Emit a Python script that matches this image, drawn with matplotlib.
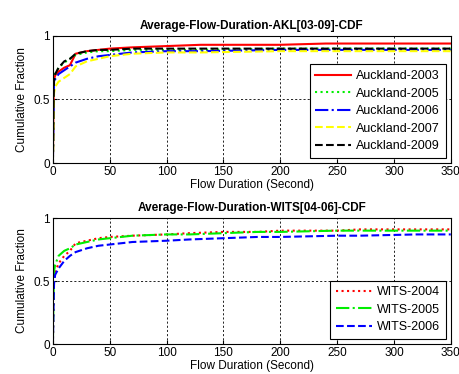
import matplotlib
matplotlib.use("Agg")
import matplotlib.pyplot as plt

plt.rcParams['font.family'] = ['Liberation Sans', 'DejaVu Sans']

# -----------------------------
# Data
# -----------------------------
akl_x = [0, 0.5, 1, 2, 5, 10, 15, 20, 30, 40, 50, 70, 100, 130, 200, 240, 300, 350]
akl_2003 = [0, 0.45, 0.66, 0.69, 0.72, 0.75, 0.77, 0.86, 0.88, 0.89, 0.90, 0.91, 0.92, 0.93, 0.93, 0.94, 0.94, 0.94]
akl_2005 = [0, 0.40, 0.64, 0.70, 0.75, 0.79, 0.82, 0.85, 0.87, 0.88, 0.88, 0.89, 0.89, 0.89, 0.90, 0.90, 0.90, 0.90]
akl_2006 = [0, 0.30, 0.62, 0.66, 0.70, 0.73, 0.76, 0.79, 0.82, 0.84, 0.85, 0.87, 0.88, 0.88, 0.89, 0.89, 0.89, 0.89]
akl_2007 = [0, 0.25, 0.55, 0.60, 0.64, 0.67, 0.70, 0.76, 0.80, 0.82, 0.84, 0.86, 0.87, 0.87, 0.88, 0.88, 0.88, 0.88]
akl_2009 = [0, 0.40, 0.65, 0.70, 0.75, 0.80, 0.82, 0.86, 0.88, 0.89, 0.89, 0.90, 0.90, 0.90, 0.90, 0.90, 0.90, 0.90]
akl_labels = ["Auckland-2003", "Auckland-2005", "Auckland-2006", "Auckland-2007", "Auckland-2009"]

wits_x = [0, 0.5, 1, 2, 5, 10, 15, 20, 30, 40, 50, 70, 100, 120, 150, 180, 200, 250, 270, 320, 350]
wits_2004 = [0, 0.30, 0.52, 0.57, 0.64, 0.70, 0.74, 0.80, 0.82, 0.84, 0.85, 0.86, 0.87, 0.88, 0.89, 0.89, 0.90, 0.90, 0.91, 0.91, 0.91]
wits_2005 = [0, 0.35, 0.58, 0.63, 0.70, 0.74, 0.76, 0.79, 0.81, 0.83, 0.84, 0.86, 0.87, 0.87, 0.88, 0.89, 0.89, 0.90, 0.90, 0.90, 0.90]
wits_2006 = [0, 0.25, 0.48, 0.55, 0.60, 0.66, 0.70, 0.73, 0.76, 0.78, 0.79, 0.81, 0.82, 0.83, 0.84, 0.85, 0.85, 0.86, 0.86, 0.87, 0.87]
wits_labels = ["WITS-2004", "WITS-2005", "WITS-2006"]

# -----------------------------
# Figure
# -----------------------------
fig = plt.figure(figsize=(4.6, 3.74), dpi=100)
ax_top = fig.add_axes([0.115, 0.564, 0.865, 0.340])
ax_bot = fig.add_axes([0.115, 0.080, 0.865, 0.337])

akl_series = [akl_2003, akl_2005, akl_2006, akl_2007, akl_2009]
akl_styles = [("red", "-"), ("#00ee00", ":"), ("blue", "-."), ("yellow", "--"), ("black", "--")]
for y, lab, (c, ls) in zip(akl_series, akl_labels, akl_styles):
    ax_top.plot(akl_x, y, color=c, linestyle=ls, lw=1.5, label=lab)

wits_series = [wits_2004, wits_2005, wits_2006]
wits_styles = [("red", ":"), ("#00ee00", "-."), ("blue", "--")]
for y, lab, (c, ls) in zip(wits_series, wits_labels, wits_styles):
    ax_bot.plot(wits_x, y, color=c, linestyle=ls, lw=1.5, label=lab)

titles = ["Average-Flow-Duration-AKL[03-09]-CDF", "Average-Flow-Duration-WITS[04-06]-CDF"]
for ax, title in zip([ax_top, ax_bot], titles):
    ax.set_xlim(0, 350)
    ax.set_ylim(0, 1)
    ax.set_xticks(range(0, 351, 50))
    ax.set_yticks([0, 0.5, 1])
    ax.set_yticklabels(["0", "0.5", "1"])
    ax.grid(True, color="black", linestyle=(0, (2.5, 2.5)), linewidth=0.6)
    ax.tick_params(direction="in", labelsize=8.5, length=3, pad=2)
    ax.set_title(title, fontsize=8.5, fontweight="bold", pad=5)
    ax.set_xlabel("Flow Duration (Second)", fontsize=8.5, labelpad=1)
    ax.set_ylabel("Cumulative Fraction", fontsize=8.5, labelpad=4)
    for s in ax.spines.values():
        s.set_linewidth(0.8)
    leg = ax.legend(loc="lower right", fontsize=9, fancybox=False, framealpha=1,
                    edgecolor="black", borderaxespad=0.4, handlelength=2.9,
                    handletextpad=0.4, labelspacing=0.45, borderpad=0.45)
    leg.get_frame().set_linewidth(0.8)

fig.savefig("out.png", dpi=100)
